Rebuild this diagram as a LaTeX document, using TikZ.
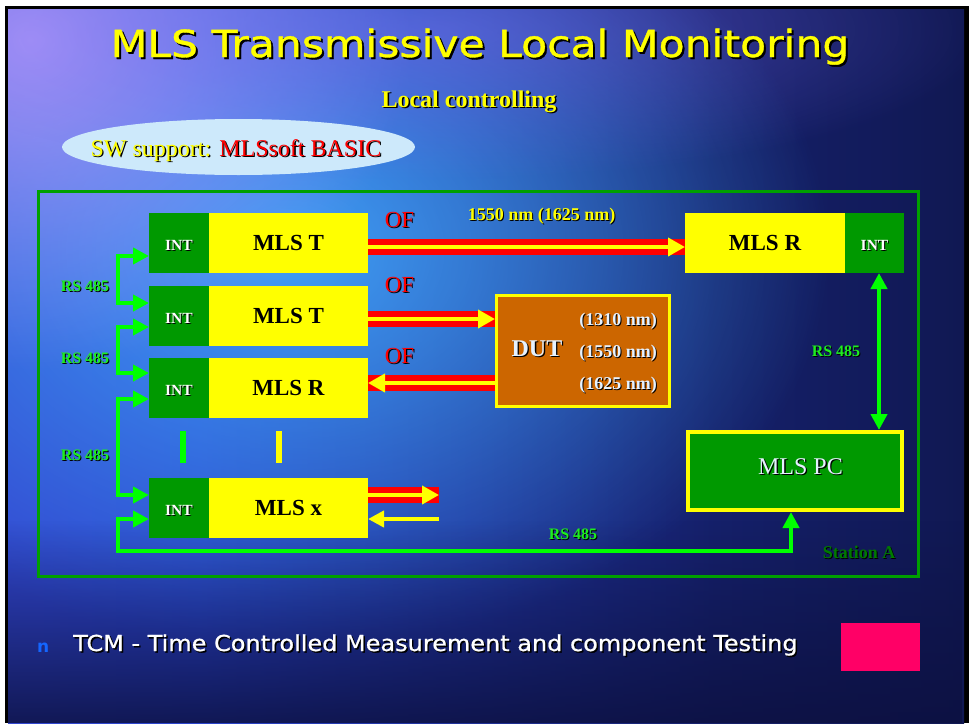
\documentclass[tikz,border=0pt]{standalone}
\usepackage{fontspec}
\setmainfont{Liberation Serif}
\newfontfamily\dejavu{DejaVu Sans}
\newfontfamily\bottomfnt[FakeStretch=1.09,FakeBold=0.8]{DejaVu Sans}
\newfontfamily\titlefnt[FakeStretch=1.14,FakeBold=1]{DejaVu Sans}
\usetikzlibrary{arrows.meta,fadings,shapes.geometric}

\definecolor{myellow}{HTML}{FFFF00}
\definecolor{intgreen}{HTML}{009900}
\definecolor{framegreen}{HTML}{00A000}
\definecolor{rsgreen}{HTML}{00FF00}
\definecolor{rstext}{HTML}{1EEE1E}
\definecolor{dutorange}{HTML}{CC6600}
\definecolor{fred}{HTML}{FF0000}
\definecolor{ellfill}{HTML}{CDE9FB}
\definecolor{ltxt}{HTML}{E6F2FF}
\definecolor{stgreen}{HTML}{007A00}
\definecolor{pinkbox}{HTML}{FF0066}
\definecolor{bulletblue}{HTML}{1466FF}
\definecolor{hA}{HTML}{4650DC}
\definecolor{hB}{HTML}{2A44CC}
\definecolor{hC}{HTML}{15206A}
\definecolor{hD}{HTML}{070926}
\definecolor{hiblue}{HTML}{44B0FF}
\definecolor{purpA}{HTML}{B098FA}
\definecolor{purpB}{HTML}{7C6CF0}
\definecolor{navy}{HTML}{0C1040}

\pgfdeclarehorizontalshading{bgh}{100bp}{color(0bp)=(hA); color(35bp)=(hB); color(62bp)=(hC); color(100bp)=(hD)}
\tikzfading[name=softfade, inner color=transparent!0, outer color=transparent!100]
\tikzfading[name=fadebottom, top color=transparent!100, bottom color=transparent!0]

\newcommand{\shd}[3][1.5pt]{\leavevmode\rlap{\hspace*{#1}\raisebox{-#1}{\color{black}#3}}{\color{#2}#3}}
\newcommand{\intt}{\smash{\raisebox{-7.5pt}{\shd[1pt]{white}{INT}}}}

\begin{document}
\begin{tikzpicture}[x=1pt,y=-1pt,
  every node/.style={inner sep=0pt},
  intbox/.style={fill=intgreen, minimum width=60pt, minimum height=60pt, outer sep=0pt,
                 font=\bfseries\fontsize{15.5}{16}\selectfont},
  mlsbox/.style={fill=myellow, minimum width=159pt, minimum height=60pt, outer sep=0pt,
                 font=\bfseries\fontsize{23}{24}\selectfont},
  oflbl/.style={anchor=base, font=\fontsize{23}{24}\selectfont},
  rslbl/.style={anchor=base, font=\bfseries\fontsize{16}{17}\selectfont},
  nmlbl/.style={anchor=base, font=\bfseries\fontsize{18}{19}\selectfont},
  fibred/.style={draw=fred, line width=16pt},
  fibyel/.style={draw=myellow, line width=4pt, arrows={-Triangle[length=17pt,width=18pt]}},
  thinyel/.style={draw=myellow, line width=4pt, arrows={-Triangle[length=16pt,width=16pt]}},
  rsline/.style={draw=rsgreen, line width=4pt},
  rsboth/.style={arrows={Triangle[length=16pt,width=16pt]-Triangle[length=16pt,width=16pt]}},
]
\useasboundingbox (0,0) rectangle (969,723);
% ---------- background ----------
\fill[white] (0,0) rectangle (969,723);
\fill[black] (5,6) rectangle (969,723);
\shade[shading=bgh] (8,9) rectangle (964,723);
\begin{scope}
  \clip (8,9) rectangle (964,723);
  \fill[hiblue, path fading=softfade, opacity=0.85] (290,250) ellipse [x radius=540, y radius=400];
  \fill[purpA, path fading=softfade, opacity=0.9] (30,40) ellipse [x radius=380, y radius=330];
  \fill[purpB, path fading=softfade, opacity=0.5] (430,30) ellipse [x radius=560, y radius=150];
  \fill[navy, path fading=fadebottom, opacity=0.85] (8,520) rectangle (964,723);
\end{scope}

% ---------- headings ----------
\node[anchor=base, font=\titlefnt\fontsize{37.3}{40}\selectfont] (title) at (480,57)
  {\shd[2pt]{myellow}{MLS Transmissive Local Monitoring}};
\node[anchor=base, font=\bfseries\fontsize{24}{26}\selectfont] (sub) at (469,107)
  {\shd[1.5pt]{myellow}{Local controlling}};
\node[ellipse, fill=ellfill, minimum width=353pt, minimum height=56pt] (swell) at (238.5,147) {};
\node[anchor=base, font=\fontsize{24}{26}\selectfont] (swtxt) at (236,156)
  {\shd[1.3pt]{myellow}{SW support: }\shd[1.3pt]{fred}{MLSsoft BASIC}};

% ---------- station frame ----------
\draw[framegreen, line width=3pt] (38,191) rectangle (918,576);

% ---------- left units ----------
\node[intbox, anchor=west] (i1) at (149,243) {\intt};
\node[mlsbox, anchor=west] (m1) at (i1.east) {MLS T};
\node[intbox, anchor=west] (i2) at (149,315.5) {\intt};
\node[mlsbox, anchor=west] (m2) at (i2.east) {MLS T};
\node[intbox, anchor=west] (i3) at (149,387.5) {\intt};
\node[mlsbox, anchor=west] (m3) at (i3.east) {MLS R};
\node[intbox, anchor=west] (ix) at (149,507.5) {\intt};
\node[mlsbox, anchor=west] (mx) at (ix.east) {MLS x};

% ---------- right unit ----------
\node[mlsbox, minimum width=160pt, anchor=west] (mr) at (685,243) {MLS R};
\node[intbox, minimum width=59pt, anchor=west] (ri) at (mr.east) {\intt};

% ---------- DUT ----------
\node[fill=dutorange, draw=myellow, line width=3pt, minimum width=173pt, minimum height=111pt] (dut) at (583,351) {};
\node[anchor=base, font=\bfseries\fontsize{24}{26}\selectfont] (dutname) at (537,356) {\shd[1.3pt]{ltxt}{DUT}};
\node[nmlbl] (nm1) at (618,325) {\shd[1.2pt]{ltxt}{(1310 nm)}};
\node[nmlbl] (nm2) at (618,357) {\shd[1.2pt]{ltxt}{(1550 nm)}};
\node[nmlbl] (nm3) at (618,389) {\shd[1.2pt]{ltxt}{(1625 nm)}};

% ---------- MLS PC ----------
\node[fill=intgreen, draw=myellow, line width=4pt, minimum width=214pt, minimum height=78pt,
      font=\fontsize{24}{26}\selectfont] (pc) at (795,471)
  {\hspace*{11pt}\smash{\raisebox{-3pt}{\shd[1.3pt]{ltxt}{MLS PC}}}};

% ---------- fibres ----------
\draw[fibred] ([yshift=-4pt]m1.east) -- ([yshift=-4pt]m1.east -| mr.west);
\draw[fibyel] ([yshift=-4pt]m1.east) -- ([yshift=-4pt]m1.east -| mr.west);
\draw[fibred] ([yshift=-3.5pt]m2.east) -- ([yshift=-3.5pt]m2.east -| dut.west);
\draw[fibyel] ([yshift=-3.5pt]m2.east) -- ([yshift=-3.5pt]m2.east -| dut.west);
\draw[fibred] ([yshift=4.5pt]m3.east -| dut.west) -- ([yshift=4.5pt]m3.east);
\draw[fibyel] ([yshift=4.5pt]m3.east -| dut.west) -- ([yshift=4.5pt]m3.east);
\coordinate (xout) at (439,495);
\coordinate (xin) at (439,519);
\draw[fibred] ([yshift=12.5pt]mx.east) -- (xout);
\draw[fibyel] ([yshift=12.5pt]mx.east) -- (xout);
\draw[thinyel] (xin) -- ([yshift=-11.5pt]mx.east);

\node[oflbl] (of1) at (399.5,227) {\shd[1.2pt]{fred}{OF}};
\node[oflbl] (of2) at (399.5,292) {\shd[1.2pt]{fred}{OF}};
\node[oflbl] (of3) at (399.5,363) {\shd[1.2pt]{fred}{OF}};
\node[nmlbl] (wl) at (541.5,220) {\shd[1.2pt]{myellow}{1550 nm (1625 nm)}};

% ---------- RS 485 bus ----------
\coordinate (bus1) at (118,280);
\coordinate (bus2) at (118,350);
\coordinate (bus3) at (118,450);
\coordinate (loopc) at (118,551);
\draw[rsline, rsboth] ([yshift=-13pt]i1.west) -| (bus1) |- ([yshift=12.5pt]i2.west);
\draw[rsline, rsboth] ([yshift=-11.5pt]i2.west) -| (bus2) |- ([yshift=14.5pt]i3.west);
\draw[rsline, rsboth] ([yshift=-11.5pt]i3.west) -| (bus3) |- ([yshift=12.5pt]ix.west);
\draw[rsline, rsboth] ([yshift=-11.5pt]ix.west) -| (loopc) -| ([xshift=-4pt]pc.south);
\draw[rsline, rsboth] ([xshift=4.5pt]ri.south) -- ([xshift=4.5pt]ri.south |- pc.north);

\node[rslbl] (rs1) at (85,291) {\shd[1pt]{rstext}{RS 485}};
\node[rslbl] (rs2) at (85,363) {\shd[1pt]{rstext}{RS 485}};
\node[rslbl] (rs3) at (85,460) {\shd[1pt]{rstext}{RS 485}};
\node[rslbl] (rs4) at (836,356) {\shd[1pt]{rstext}{RS 485}};
\node[rslbl] (rs5) at (573,539) {\shd[1pt]{rstext}{RS 485}};
\node[anchor=base, font=\bfseries\fontsize{18}{19}\selectfont] (sta) at (859,558) {\shd[1pt]{stgreen}{Station A}};

% ---------- continuation marks ----------
\draw[rsgreen, line width=5.5pt] (183,431) -- (183,463);
\draw[myellow, line width=5.5pt] (279,431) -- (279,463);

% ---------- bottom line ----------
\node[anchor=base west, font=\dejavu\bfseries\fontsize{17}{18}\selectfont, text=bulletblue] (bul) at (37,652) {n};
\node[anchor=base west, font=\bottomfnt\fontsize{22}{24}\selectfont] (tcm) at (73,651)
  {\shd[1.5pt]{white}{TCM - Time Controlled Measurement and component Testing}};
\fill[pinkbox] (841,623) rectangle (920,671);
\end{tikzpicture}
\end{document}
